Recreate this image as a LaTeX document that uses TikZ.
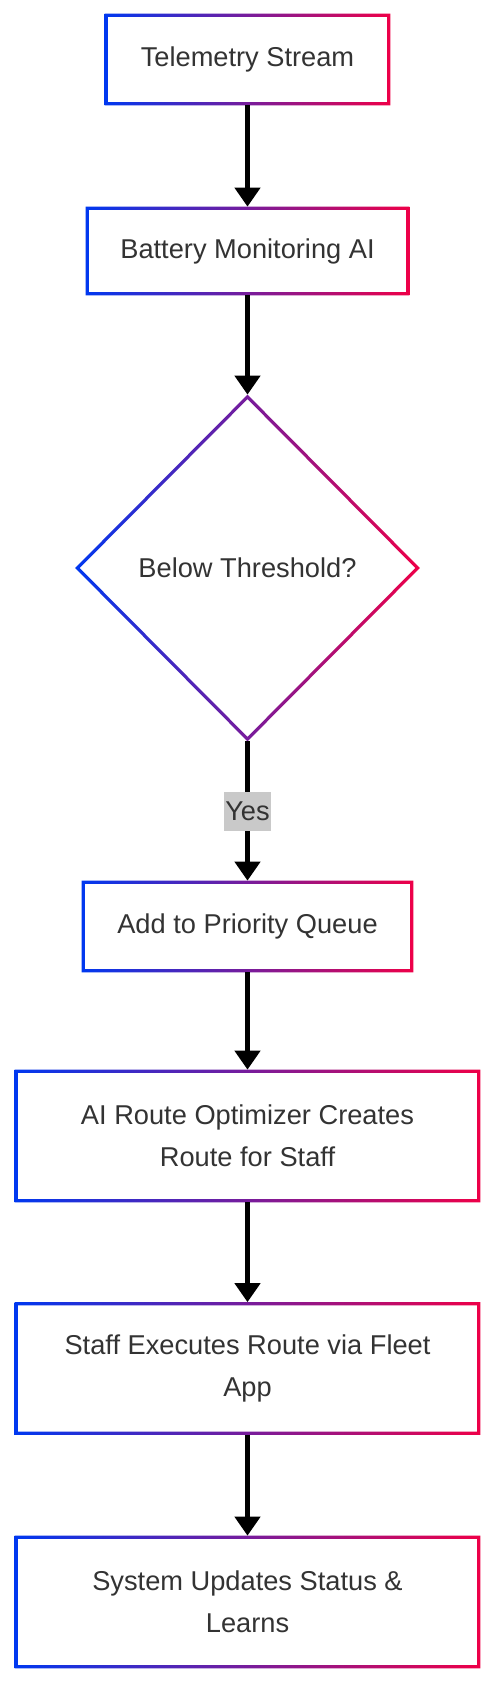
\documentclass[tikz,border=0pt]{standalone}
\usepackage{fontspec}
\setmainfont{Liberation Sans}
\usepackage{xcolor}
\usepackage{tikz}
\usetikzlibrary{shapes.geometric, arrows.meta}

\definecolor{edgeblue}{RGB}{0,56,240}
\definecolor{edgered}{RGB}{238,0,72}
\definecolor{txtgray}{RGB}{51,51,51}

\begin{document}
\begin{tikzpicture}[
    pbox/.style = {
        inner sep=0pt, align=center, text=txtgray,
        font=\fontsize{15.5pt}{24pt}\selectfont
    },
    dbox/.style = {
        diamond, aspect=1, inner sep=0pt, align=center, text=txtgray,
        font=\fontsize{15.5pt}{24pt}\selectfont
    },
    ylabel/.style = {
        fill=black!21, text=txtgray, inner xsep=0.5pt, inner ysep=0pt,
        minimum height=0.78cm, font=\fontsize{15.5pt}{24pt}\selectfont
    },
    edge/.style = {even odd rule, left color=edgeblue, right color=edgered},
    arr/.style = {-{Triangle[width=0.5cm, length=0.38cm]}, line width=2.6pt, color=black}
]

%% ---- CANVAS ----
\fill[white] (0,0) rectangle (9.92,-33.66);
\useasboundingbox (0,0) rectangle (9.92,-33.66);

%% ---- NODES ----
\node[pbox, minimum width=5.70cm, minimum height=1.82cm] (tel)   at (4.95, -1.19) {Telemetry Stream};
\node[pbox, minimum width=6.46cm, minimum height=1.76cm] (bat)   at (4.95, -5.02) {Battery Monitoring AI};
\node[dbox, minimum width=6.88cm, minimum height=6.92cm] (thr)   at (4.95,-11.36) {Below Threshold?};
\node[pbox, minimum width=6.62cm, minimum height=1.82cm] (queue) at (4.95,-18.53) {Add to Priority Queue};
\node[pbox, minimum width=9.30cm, minimum height=2.64cm] (route) at (4.95,-22.72) {AI Route Optimizer Creates\\Route for Staff};
\node[pbox, minimum width=9.30cm, minimum height=2.64cm] (exec)  at (4.95,-27.37) {Staff Executes Route via Fleet\\App};
\node[pbox, minimum width=9.30cm, minimum height=2.64cm] (upd)   at (4.95,-32.04) {System Updates Status \&\\Learns};

%% ---- GRADIENT BORDERS ----
\foreach \n in {tel, bat, queue, route, exec, upd}
    \shade[edge] (\n.north west) rectangle (\n.south east)
        ([shift={(0.065,-0.065)}]\n.north west) rectangle ([shift={(-0.065,0.065)}]\n.south east);
\shade[edge] (thr.north) -- (thr.east) -- (thr.south) -- (thr.west) -- cycle
    ([yshift=-0.09cm]thr.north) -- ([xshift=-0.09cm]thr.east)
    -- ([yshift=0.09cm]thr.south) -- ([xshift=0.09cm]thr.west) -- cycle;

%% ---- ARROWS ----
\draw[arr] (tel.south)   -- (bat.north);
\draw[arr] (bat.south)   -- (thr.north);
\draw[arr] (thr.south)   -- node[ylabel] (yes) {Yes} (queue.north);
\draw[arr] (queue.south) -- (route.north);
\draw[arr] (route.south) -- (exec.north);
\draw[arr] (exec.south)  -- (upd.north);

\end{tikzpicture}
\end{document}
